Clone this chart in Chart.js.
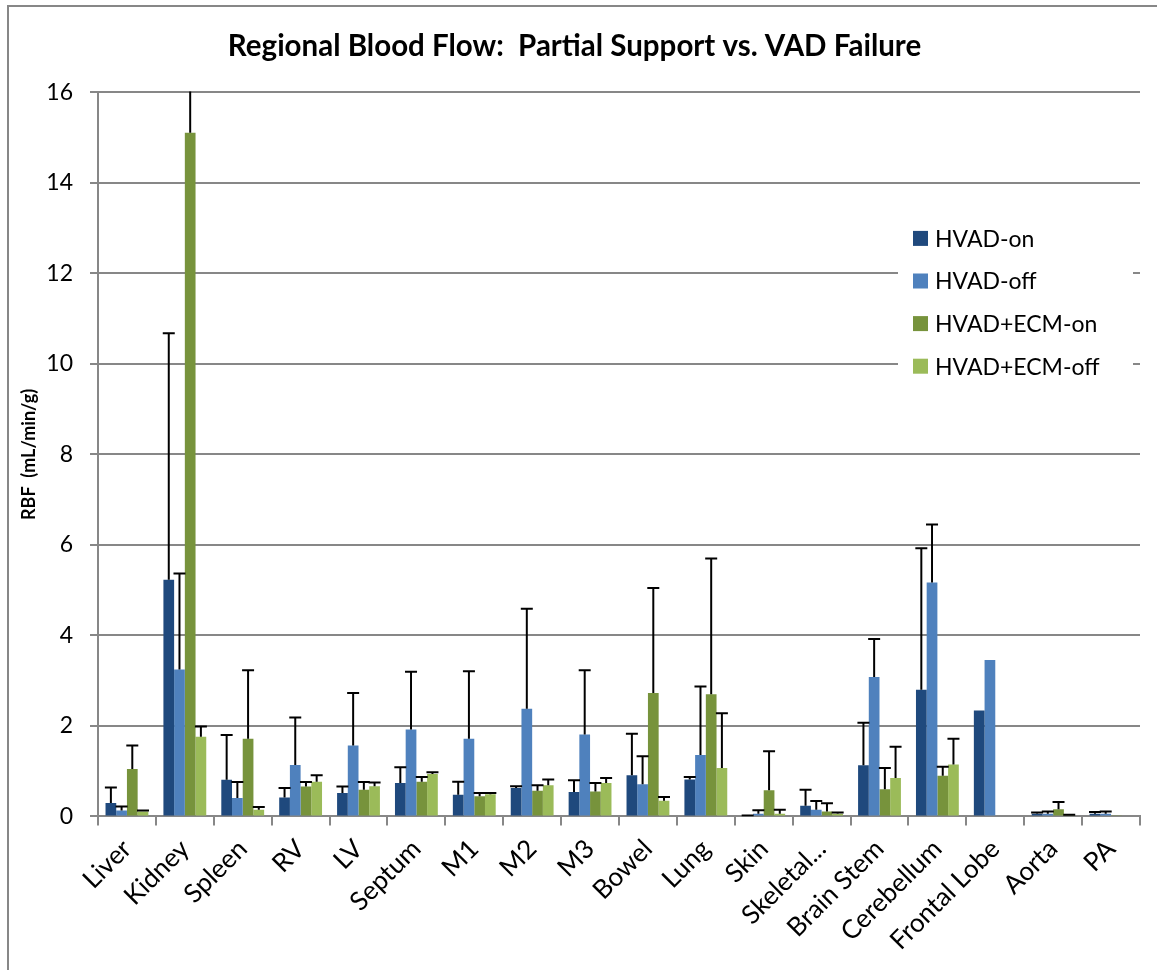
<!DOCTYPE html>
<html>
<head>
<meta charset="utf-8">
<title>Regional Blood Flow</title>
<script src="https://cdn.jsdelivr.net/npm/chart.js@4.4.1/dist/chart.umd.min.js"></script>
<style>
  body { margin: 0; background: #fff; }
  #wrap { position: relative; width: 1157px; height: 970px; overflow: hidden; }
  #frame { position: absolute; left: 7px; top: 5px; width: 1200px; height: 1000px;
           border-left: 2px solid #878787; border-top: 2px solid #878787; pointer-events: none; }
</style>
</head>
<body>
<div id="wrap">
  <canvas id="rbf" width="1157" height="970"></canvas>
  <div id="frame"></div>
</div>
<script>
// tissues on the x axis
var organs = ["Liver", "Kidney", "Spleen", "RV", "LV", "Septum", "M1", "M2", "M3", "Bowel",
              "Lung", "Skin", "Skeletal...", "Brain Stem", "Cerebellum", "Frontal Lobe", "Aorta", "PA"];

var seriesNames = ["HVAD-on", "HVAD-off", "HVAD+ECM-on", "HVAD+ECM-off"];

// mean RBF (mL/min/g)
var hvadOn     = [0.30, 5.23, 0.81, 0.42, 0.52, 0.74, 0.48, 0.63, 0.54, 0.91, 0.82, 0.01, 0.24, 1.13, 2.80, 2.34, 0.06, 0.06];
var hvadOff    = [0.13, 3.25, 0.41, 1.14, 1.57, 1.92, 1.72, 2.38, 1.81, 0.71, 1.36, 0.06, 0.15, 3.08, 5.17, 3.46, 0.06, 0.06];
var ecmOn      = [1.05, 15.11, 1.72, 0.66, 0.59, 0.77, 0.45, 0.57, 0.55, 2.73, 2.70, 0.58, 0.11, 0.60, 0.90, null, 0.16, 0.03];
var ecmOff     = [0.11, 1.76, 0.15, 0.77, 0.67, 0.94, 0.49, 0.69, 0.74, 0.35, 1.07, 0.06, 0.06, 0.85, 1.15, null, 0.03, 0.02];

// standard deviations (plus side only is drawn)
var hvadOnSD   = [0.34, 5.45, 0.99, 0.21, 0.14, 0.35, 0.29, 0.04, 0.26, 0.92, 0.05, 0.01, 0.35, 0.94, 3.13, null, 0.03, 0.04];
var hvadOffSD  = [0.09, 2.12, 0.35, 1.05, 1.16, 1.28, 1.49, 2.21, 1.42, 0.62, 1.51, 0.08, 0.19, 0.84, 1.28, null, 0.05, 0.05];
var ecmOnSD    = [0.52, 2.40, 1.51, 0.10, 0.17, 0.10, 0.07, 0.12, 0.19, 2.32, 3.00, 0.86, 0.18, 0.47, 0.20, null, 0.16, null];
var ecmOffSD   = [0.02, 0.23, 0.06, 0.14, 0.08, 0.04, 0.03, 0.13, 0.11, 0.08, 1.21, 0.09, 0.03, 0.69, 0.57, null, 0.01, null];

var yTicks = [0, 2, 4, 6, 8, 10, 12, 14, 16];

var colors = ["#1F497D", "#4F81BD", "#77933C", "#9BBB59"];
var gridGray = "#878787";

Chart.defaults.font.family = "Lato, 'Noto Sans', sans-serif";
Chart.defaults.color = "#000";

// plus-only error bars, drawn from the top of each bar
var errorBars = {
  id: "errorBars",
  afterDatasetsDraw: function(chart) {
    var ctx = chart.ctx;
    var area = chart.chartArea;
    var y = chart.scales.y;
    ctx.save();
    ctx.beginPath();
    ctx.rect(area.left, area.top - 1, area.right - area.left, area.bottom - area.top + 1);
    ctx.clip();
    ctx.strokeStyle = "#000";
    ctx.lineWidth = 2;
    chart.data.datasets.forEach(function(ds, i) {
      var meta = chart.getDatasetMeta(i);
      meta.data.forEach(function(bar, j) {
        var sd = ds.sd[j];
        if (sd == null || ds.data[j] == null) return;
        var yTop = y.getPixelForValue(ds.data[j] + sd);
        ctx.beginPath();
        ctx.moveTo(bar.x, bar.y);
        ctx.lineTo(bar.x, yTop);
        ctx.moveTo(bar.x - 6, yTop);
        ctx.lineTo(bar.x + 6, yTop);
        ctx.stroke();
      });
    });
    ctx.restore();
  }
};

// legend sitting inside the plot on the right, on a white box
var boxLegend = {
  id: "boxLegend",
  afterDraw: function(chart) {
    var ctx = chart.ctx;
    var area = chart.chartArea;
    var left = area.right - 242;
    var top = area.top + 122;
    ctx.save();
    ctx.fillStyle = "#fff";
    ctx.fillRect(left, top, 235, 177);
    ctx.font = "23px Lato";
    ctx.textBaseline = "middle";
    chart.data.datasets.forEach(function(ds, i) {
      var cy = top + 24 + i * 42.6;
      ctx.fillStyle = ds.backgroundColor;
      ctx.fillRect(left + 15, cy - 7.5, 15, 15);
      ctx.fillStyle = "#000";
      ctx.fillText(ds.label, left + 37, cy + 1);
    });
    ctx.restore();
  }
};

var values = [hvadOn, hvadOff, ecmOn, ecmOff];
var sds = [hvadOnSD, hvadOffSD, ecmOnSD, ecmOffSD];

var rbfChart = new Chart("rbf", {
  type: "bar",
  data: {
    labels: organs,
    datasets: seriesNames.map(function(name, i) {
      return {
        label: name,
        data: values[i],
        sd: sds[i],
        backgroundColor: colors[i],
        borderWidth: 0,
        categoryPercentage: 0.74,
        barPercentage: 1.0
      };
    })
  },
  options: {
    responsive: false,
    animation: false,
    layout: { autoPadding: false, padding: { left: 9, right: 17, top: 0, bottom: 6 } },
    plugins: {
      legend: { display: false },
      tooltip: { enabled: false },
      title: {
        display: true,
        text: "Regional Blood Flow:  Partial Support vs. VAD Failure",
        color: "#000",
        font: { size: 29.5, weight: "bold" },
        padding: { top: 29, bottom: 28 }
      }
    },
    scales: {
      x: {
        grid: { drawOnChartArea: false, color: gridGray, lineWidth: 2, tickLength: 9, offset: true },
        border: { color: gridGray, width: 2 },
        ticks: { color: "#000", font: { size: 26 }, minRotation: 45, maxRotation: 45, autoSkip: false, padding: 8 }
      },
      y: {
        min: 0,
        max: 16,
        afterBuildTicks: function(axis) {
          axis.ticks = yTicks.map(function(v) { return { value: v }; });
        },
        afterFit: function(axis) { axis.width = 89; },
        ticks: { color: "#000", font: { size: 23 }, padding: 17 },
        grid: { color: gridGray, lineWidth: 2, tickLength: 8 },
        border: { color: gridGray, width: 2 },
        title: {
          display: true,
          text: "RBF  (mL/min/g)",
          color: "#000",
          font: { size: 18, weight: "bold" },
          padding: 9
        }
      }
    }
  },
  plugins: [errorBars, boxLegend]
});
</script>
</body>
</html>
